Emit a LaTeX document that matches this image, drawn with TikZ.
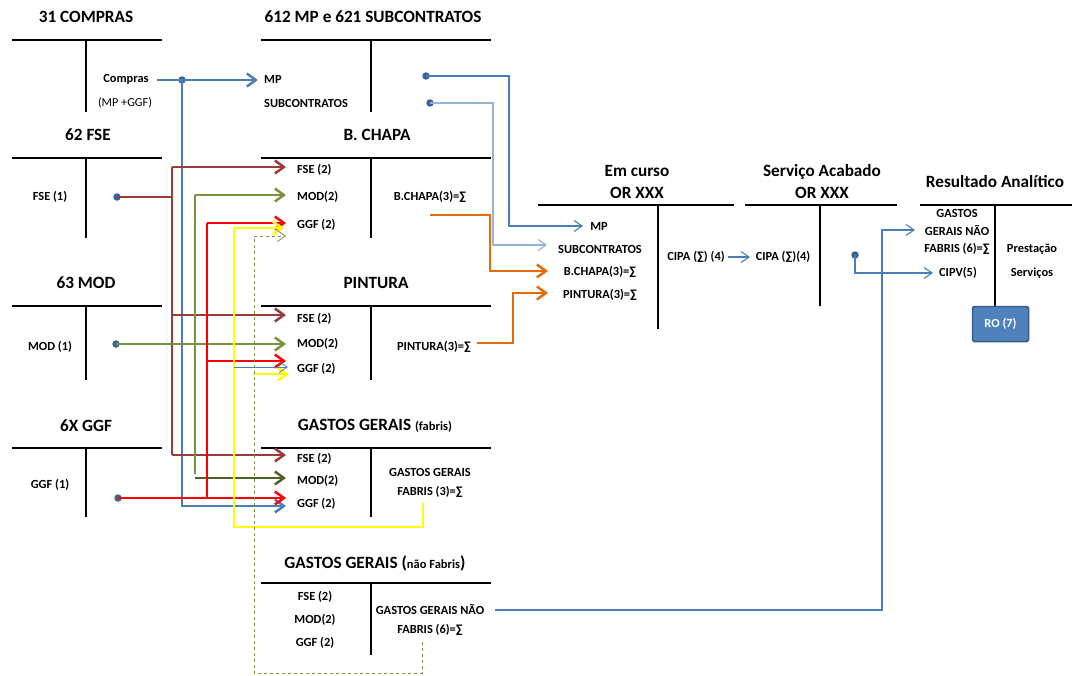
\documentclass[tikz,border=0pt]{standalone}
\usepackage{fontspec}
\setmainfont{Carlito}
\usetikzlibrary{arrows.meta}
\definecolor{cblue}{HTML}{4A7EBB}
\definecolor{clblue}{HTML}{95B3D7}
\definecolor{cdot}{HTML}{3A6496}
\definecolor{cbrown}{HTML}{993C3A}
\definecolor{cgreen}{HTML}{77933C}
\definecolor{cdgreen}{HTML}{4F6228}
\definecolor{cred}{HTML}{FF0000}
\definecolor{cyellow}{HTML}{FFFF00}
\definecolor{corange}{HTML}{E46C0A}
\definecolor{cbox}{HTML}{4F81BD}
\definecolor{cboxd}{HTML}{385D8A}
\tikzset{
 ttl/.style={font=\bfseries\fontsize{17.2}{22}\selectfont, inner sep=0, align=center},
 lbl/.style={font=\bfseries\fontsize{12.4}{14}\selectfont, inner sep=0},
 lblr/.style={font=\fontsize{12.2}{14}\selectfont, inner sep=0},
 tacc/.style={line width=2.8pt, black},
 dotn/.style={circle, fill=cdot, inner sep=0, minimum size=7.5pt},
 thk/.style={line width=2.5pt},
 thn/.style={line width=1.1pt, cblue},
 tka/.style={-{Straight Barb[length=9pt,width=13pt]}},
 tna/.style={-{Straight Barb[length=8pt,width=11pt]}},
}
\begin{document}
\begin{tikzpicture}[x=1pt,y=-1pt]
\useasboundingbox (0,0) rectangle (1074,675);
\fill[white] (0,0) rectangle (1074,675);

% ---------- T accounts ----------
\node[ttl] (tComp) at (86,17) {31 COMPRAS};
\draw[tacc] (12,40) -- (162,40) (86,40) -- (86,112);
\node[ttl] (tMP) at (373,17) {612 MP e 621 SUBCONTRATOS};
\draw[tacc] (261,40) -- (491,40) (371,40) -- (371,112);
\node[ttl] (tFSE) at (88,135) {62 FSE};
\draw[tacc] (12,158) -- (162,158) (86,158) -- (86,238);
\node[ttl] (tBC) at (377,135) {B. CHAPA};
\draw[tacc] (261,158) -- (491,158) (371,158) -- (371,238);
\node[ttl] (tMOD) at (86,283) {63 MOD};
\draw[tacc] (12,306) -- (162,306) (86,306) -- (86,380);
\node[ttl] (tPIN) at (376,283) {PINTURA};
\draw[tacc] (261,306) -- (491,306) (371,306) -- (371,380);
\node[ttl] (tGGF) at (86,426) {6X GGF};
\draw[tacc] (12,448) -- (162,448) (86,448) -- (86,517);
\node[ttl] (tGG) at (375,426) {GASTOS GERAIS {\fontsize{12.5}{14}\selectfont (fabris)}};
\draw[tacc] (261,448) -- (491,448) (371,448) -- (371,517);
\node[ttl] (tGN) at (375,563) {GASTOS GERAIS ({\fontsize{12.5}{14}\selectfont não Fabris})};
\draw[tacc] (261,583) -- (491,583) (371,583) -- (371,655);
\node[ttl] (tEC) at (637,182) {Em curso\\OR XXX};
\draw[tacc] (538,205) -- (734,205) (658,205) -- (658,329);
\node[ttl] (tSA) at (822,182) {Serviço Acabado\\OR XXX};
\draw[tacc] (745,205) -- (897,205) (820,205) -- (820,306);
\node[ttl] (tRA) at (995,182) {Resultado Analítico};
\draw[tacc] (920,205) -- (1072,205) (995,205) -- (995,306);

% ---------- labels ----------
\node[lbl] (lCompras) at (126,79) {Compras};
\node[lblr] (lMPGGF) at (125,103) {(MP +GGF)};
\node[lbl,anchor=west] (lMP) at (264,79) {MP};
\node[lbl,anchor=west] (lSUB) at (264,103) {SUBCONTRATOS};
\node[lbl] (lFSE1) at (50,197) {FSE (1)};
\node[lbl] (lMOD1) at (50,347) {MOD (1)};
\node[lbl] (lGGF1) at (50,485) {GGF (1)};

\node[lbl,anchor=west] (bcF) at (297,170) {FSE (2)};
\node[lbl,anchor=west] (bcM) at (297,197) {MOD(2)};
\node[lbl,anchor=west] (bcG) at (297,225) {GGF (2)};
\node[lbl] (bcS) at (430,197) {B.CHAPA(3)=∑};

\node[lbl,anchor=west] (piF) at (297,319) {FSE (2)};
\node[lbl,anchor=west] (piM) at (297,344) {MOD(2)};
\node[lbl,anchor=west] (piG) at (297,369) {GGF (2)};
\node[lbl] (piS) at (434,347) {PINTURA(3)=∑};

\node[lbl,anchor=west] (ggF) at (297,459) {FSE (2)};
\node[lbl,anchor=west] (ggM) at (297,481) {MOD(2)};
\node[lbl,anchor=west] (ggG) at (297,504) {GGF (2)};
\node[lbl,align=center,font=\bfseries\fontsize{12.4}{19.5}\selectfont] (ggS) at (430,483) {GASTOS GERAIS\\FABRIS (3)=∑};

\node[lbl] (gnF) at (315,597) {FSE (2)};
\node[lbl] (gnM) at (315,620) {MOD(2)};
\node[lbl] (gnG) at (315,643) {GGF (2)};
\node[lbl,align=center,font=\bfseries\fontsize{12.4}{19.5}\selectfont] (gnS) at (430,620) {GASTOS GERAIS NÃO\\FABRIS (6)=∑};

\node[lbl] (ecMP) at (599,226) {MP};
\node[lbl] (ecSUB) at (600,249) {SUBCONTRATOS};
\node[lbl] (ecBC) at (600,272) {B.CHAPA(3)=∑};
\node[lbl] (ecPI) at (600,295) {PINTURA(3)=∑};
\node[lbl] (ecCI) at (696,257) {CIPA (∑) (4)};
\node[lbl] (saCI) at (783,257) {CIPA (∑)(4)};

\node[lbl,align=center,font=\bfseries\fontsize{12.4}{17.5}\selectfont] (raG) at (957,232) {GASTOS\\GERAIS NÃO\\FABRIS (6)=∑};
\node[lbl] (raCIPV) at (958,273) {CIPV(5)};
\node[lbl] (raP) at (1032,249) {Prestação};
\node[lbl] (raS) at (1032,273) {Serviços};
\node[draw=cboxd, line width=1.5pt, fill=cbox, rounded corners=1.5pt, text=white, minimum width=56pt, minimum height=35pt, inner sep=0, font=\bfseries\fontsize{12.4}{14}\selectfont] (RO) at (1000.5,324) {RO (7)};

% ---------- dots and free ends ----------
\node[dotn] (dC) at (182,80) {};
\node[dotn] (dMP) at (426,76) {};
\node[dotn] (dSUB) at (430,103) {};
\node[dotn] (dF) at (117,197) {};
\node[dotn] (dM) at (116,344) {};
\node[dotn] (dG) at (118,498) {};
\node[dotn] (dSA) at (855,255) {};
\coordinate (cComp) at (157,80);
\coordinate (cCI) at (728,257);
\coordinate (cGN) at (495,610);

% ---------- blue (compras) ----------
\draw[thk,cblue,tka] (cComp) -- (dC.center) -- (258,80);
\draw[thk,cblue,tka] (dC.center) -- (182,506) -- (286,506);

% ---------- brown (FSE) ----------
\draw[thk,cbrown] (dF.center) -- (172,197);
\draw[thk,cbrown] (172,167) -- (172,455);
\draw[thk,cbrown,tka] (172,167) -- (286,167);
\draw[thk,cbrown,tka] (172,315) -- (286,315);
\draw[thk,cbrown,tka] (172,455) -- (286,455);

% ---------- green (MOD) ----------
\draw[thk,cgreen,tka] (dM.center) -- (286,344);
\draw[thk,cgreen] (195,195) -- (195,474);
\draw[thk,cgreen,tka] (195,195) -- (286,195);
\draw[thk,cdgreen,tka] (195,478) -- (286,478);

% ---------- red (GGF) ----------
\draw[thk,cred,tka] (dG.center) -- (286,498);
\draw[thk,cred] (207,223) -- (207,498);
\draw[thk,cred,tka] (207,223) -- (286,223);
\draw[thk,cred,tka] (207,361) -- (286,361);

% ---------- yellow (GG fabris) ----------
\draw[thk,cyellow,tka] (423,503) -- (423,527) -- (234,527) -- (234,228) -- (284,228);
\draw[thk,cyellow,tka] (253,374) -- (289,374);
\draw[line width=0.8pt,cblue,tna] (234,367) -- (288,367);

% ---------- dashed green (GG nao fabris) ----------
\draw[line width=0.8pt,cgreen,dashed,tna] (422,642) -- (422,673) -- (254,673) -- (254,236) -- (286,236);

% ---------- blue thin to Em curso ----------
\draw[thn,tna] (dMP.center) -- (509,76) -- (509,226) -- (583,226);
\draw[line width=1.1pt,clblue,tna] (dSUB.center) -- (493,103) -- (493,245) -- (547,245);

% ---------- orange ----------
\draw[thk,corange,tka] (430,215) -- (490,215) -- (490,271) -- (548,271);
\draw[thk,corange,tka] (477,343) -- (513,343) -- (513,293) -- (548,293);

% ---------- right side ----------
\draw[thn,tna] (cCI) -- (750,257);
\draw[thn,tna] (dSA.center) -- (855,273) -- (933,273);
\draw[thn,tna] (cGN) -- (882,610) -- (882,230) -- (915,230);
\end{tikzpicture}
\end{document}
